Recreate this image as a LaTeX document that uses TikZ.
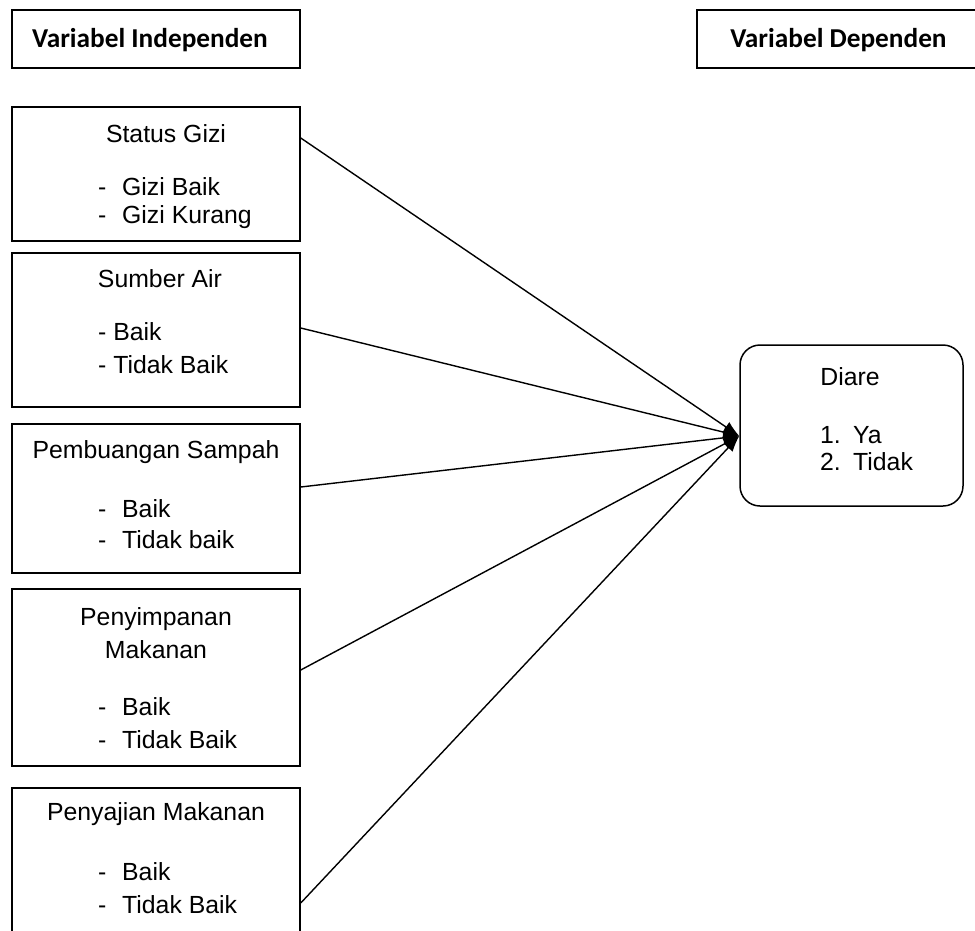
\documentclass[tikz,border=0pt]{standalone}
\usepackage{fontspec}
\setmainfont{Liberation Sans}
\newfontfamily\headfont{Carlito}
\usetikzlibrary{arrows.meta}

\newcommand{\bodysize}{\fontsize{24.8}{30}\selectfont}
\newcommand{\tabdash}{\makebox[24pt][l]{-}}
\newcommand{\numitem}[1]{\makebox[33pt][l]{#1}}

\tikzset{
  varbox/.style={draw, line width=1.5pt, minimum width=288pt, inner sep=0pt},
  headbox/.style={draw, line width=1.5pt, minimum height=58pt, inner sep=0pt},
  headtext/.style={anchor=base, font=\headfont\bfseries\fontsize{27.3}{32}\selectfont, inner sep=0pt},
  boxtext/.style={anchor=base, font=\bodysize, inner sep=0pt},
  itemtext/.style={anchor=base west, font=\bodysize, inner sep=0pt},
  link/.style={line width=1.4pt, -{Latex[length=16pt,width=12pt]}}
}

\begin{document}
\begin{tikzpicture}[x=1pt, y=-1pt]
  \useasboundingbox (0,0) rectangle (975,930);

  % judul kolom
  \node[headbox, minimum width=288pt] (indep) at (156,39) {};
  \node[headtext] (indeptext) at (150,47) {Variabel Independen};
  \node[headbox, minimum width=293pt] (dep) at (843.5,39) {};
  \node[headtext] (deptext) at (838.5,47) {Variabel Dependen};

  % variabel independen
  \node[varbox, minimum height=134pt] (gizi) at (156,174) {};
  \node[boxtext] (gizititle) at (166,142) {Status Gizi};
  \node[itemtext] (gizia) at (98,195) {\tabdash Gizi Baik};
  \node[itemtext] (gizib) at (98,223) {\tabdash Gizi Kurang};

  \node[varbox, minimum height=154pt] (air) at (156,330) {};
  \node[boxtext] (airtitle) at (160,287) {Sumber Air};
  \node[itemtext] (aira) at (98,340) {- Baik};
  \node[itemtext] (airb) at (98,373) {- Tidak Baik};

  \node[varbox, minimum height=149pt] (sampah) at (156,498.5) {};
  \node[boxtext] (sampahtitle) at (156,458) {Pembuangan Sampah};
  \node[itemtext] (sampaha) at (98,517) {\tabdash Baik};
  \node[itemtext] (sampahb) at (98,548) {\tabdash Tidak baik};

  \node[varbox, minimum height=177pt] (simpan) at (156,677.5) {};
  \node[boxtext] (simpantitle) at (156,625) {Penyimpanan};
  \node[boxtext] (simpantitleb) at (156,658) {Makanan};
  \node[itemtext] (simpana) at (98,715) {\tabdash Baik};
  \node[itemtext] (simpanb) at (98,748) {\tabdash Tidak Baik};

  \node[varbox, minimum height=157pt] (saji) at (156,866.5) {};
  \node[boxtext] (sajititle) at (156,820) {Penyajian Makanan};
  \node[itemtext] (sajia) at (98,880) {\tabdash Baik};
  \node[itemtext] (sajib) at (98,913) {\tabdash Tidak Baik};

  % variabel dependen
  \node[draw, line width=1.5pt, rounded corners=20pt, minimum width=223pt,
        minimum height=161pt, inner sep=0pt] (diare) at (851.5,425.5) {};
  \node[boxtext] (diaretitle) at (850,385) {Diare};
  \node[itemtext] (diarea) at (820,443) {\numitem{1.}Ya};
  \node[itemtext] (diareb) at (820,470) {\numitem{2.}Tidak};

  \coordinate (tip) at ([yshift=-10.5pt]diare.west);

  % hubungan
  \draw[link] ([yshift=36pt]gizi.east) -- (tip);
  \draw[link] ([yshift=2pt]air.east) -- (tip);
  \draw[link] ([yshift=11.5pt]sampah.east) -- (tip);
  \draw[link] ([yshift=7.5pt]simpan.east) -- (tip);
  \draw[link] ([yshift=-36.5pt]saji.east) -- (tip);
\end{tikzpicture}
\end{document}
